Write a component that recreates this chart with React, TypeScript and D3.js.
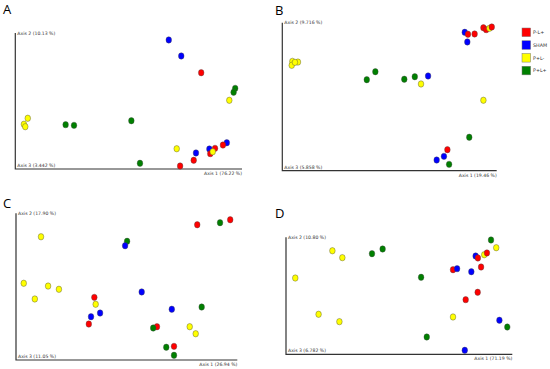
import * as d3 from 'd3';

// group index: 0 = P-L+, 1 = SHAM, 2 = P+L-, 3 = P+L+
const groups = ['P-L+', 'SHAM', 'P+L-', 'P+L+'];
const groupColors = ['#ff0000', '#0000ff', '#ffff00', '#008000'];

// point coordinates, as % of each axis extent
const pointsA: [number, number, number][] = [
  [1, 67.7, 94.9], [1, 73.2, 83.1], [0, 82.0, 70.8], [3, 97.0, 59.3], [3, 96.3, 56.4],
  [2, 94.4, 50.5], [2, 5.5, 37.3], [2, 3.8, 32.9], [2, 4.4, 31.1], [3, 22.2, 32.6],
  [3, 25.9, 32.1], [3, 51.2, 35.5], [2, 71.2, 14.9], [1, 79.7, 11.8], [1, 85.6, 14.7],
  [1, 93.3, 19.3], [0, 86.0, 11.3], [0, 88.1, 15.2], [0, 91.6, 17.6], [2, 87.1, 12.7],
  [0, 78.7, 6.4], [0, 72.7, 2.2], [3, 55.0, 4.2],
];
const pointsB: [number, number, number][] = [
  [0, 93.8, 96.6], [0, 95.1, 95.3], [2, 96.6, 96.2], [0, 97.7, 97.1], [1, 85.1, 93.5],
  [0, 86.6, 92.2], [0, 89.7, 92.4], [1, 86.3, 87.0], [2, 4.7, 73.9], [2, 7.3, 73.4],
  [2, 4.4, 71.2], [2, 5.9, 73.2], [3, 43.4, 66.9], [3, 39.4, 61.5], [3, 56.9, 61.8],
  [3, 61.8, 63.5], [1, 68.0, 64.0], [2, 64.7, 58.6], [2, 93.8, 47.6], [3, 87.2, 22.6],
  [0, 77.0, 14.2], [1, 75.4, 9.7], [1, 72.0, 7.2], [3, 77.8, 4.3],
];
const pointsC: [number, number, number][] = [
  [0, 81.9, 92.2], [3, 92.2, 93.6], [0, 96.8, 95.6], [2, 11.3, 84.0], [3, 50.2, 80.9],
  [1, 49.3, 77.9], [2, 3.5, 52.3], [2, 14.5, 50.4], [2, 19.4, 48.2], [2, 8.5, 41.6],
  [1, 56.8, 46.4], [0, 35.4, 42.7], [2, 36.0, 38.0], [1, 38.0, 32.0], [1, 33.9, 29.5],
  [0, 32.9, 24.5], [1, 70.4, 34.6], [3, 83.9, 36.1], [0, 63.7, 22.7], [3, 62.0, 21.8],
  [2, 78.5, 22.7], [2, 81.2, 17.9], [0, 71.4, 9.3], [3, 67.9, 8.7], [3, 71.4, 3.2],
];
const pointsD: [number, number, number][] = [
  [3, 90.6, 97.7], [2, 92.9, 91.1], [2, 20.5, 88.5], [2, 24.9, 82.6], [3, 38.0, 86.0],
  [3, 42.7, 90.0], [1, 83.8, 84.0], [0, 84.8, 82.3], [2, 87.6, 85.1], [0, 88.8, 86.6],
  [0, 73.8, 72.3], [1, 75.6, 73.2], [1, 81.9, 70.6], [0, 86.2, 74.6], [2, 4.1, 65.2],
  [3, 59.7, 65.8], [0, 84.7, 53.0], [0, 79.4, 46.7], [2, 14.4, 34.2], [2, 23.6, 27.9],
  [2, 73.8, 31.9], [1, 94.3, 29.1], [3, 97.8, 23.3], [3, 62.2, 14.8], [1, 79.0, 3.4],
];

const panelLetters = ['A', 'B', 'C', 'D'];
const axis1Labels = ['Axis 1 (76.22 %)', 'Axis 1 (19.46 %)', 'Axis 1 (26.94 %)', 'Axis 1 (71.19 %)'];
const axis2Labels = ['Axis 2 (10.13 %)', 'Axis 2 (9.716 %)', 'Axis 2 (17.90 %)', 'Axis 2 (10.80 %)'];
const axis3Labels = ['Axis 3 (3.442 %)', 'Axis 3 (5.858 %)', 'Axis 3 (11.05 %)', 'Axis 3 (6.782 %)'];
const allPoints = [pointsA, pointsB, pointsC, pointsD];

// layout of each panel: axis box + letter position
const panels = [
  { left: 15.3, right: 242, top: 33, bottom: 169, lx: 3, ly: 14 },
  { left: 282.3, right: 496.7, top: 22.7, bottom: 170.7, lx: 275, ly: 15 },
  { left: 16, right: 237.3, top: 213.3, bottom: 360, lx: 3, ly: 208 },
  { left: 286, right: 512.3, top: 237.3, bottom: 354.3, lx: 275, ly: 218 },
];

const Panel = ({ i }: { i: number }) => {
  const p = panels[i];
  const x = d3.scaleLinear().domain([0, 100]).range([p.left, p.right]);
  const y = d3.scaleLinear().domain([0, 100]).range([p.bottom, p.top]);
  const labelStyle = { fontSize: 4.6, fill: '#333', fontFamily: 'DejaVu Sans' };
  return (
    <g>
      <text x={p.lx} y={p.ly} fontSize={13} fontFamily="Open Sans" fill="#000">
        {panelLetters[i]}
      </text>
      <path
        d={`M${p.left},${p.top}V${p.bottom}H${p.right}`}
        fill="none"
        stroke="#333"
        strokeWidth={1.2}
      />
      <text x={p.left + 2} y={p.top + 1.5} style={labelStyle}>{axis2Labels[i]}</text>
      <text x={p.left + 2} y={p.bottom - 2} style={labelStyle}>{axis3Labels[i]}</text>
      <text x={p.right} y={p.bottom + 6} textAnchor="end" style={labelStyle}>{axis1Labels[i]}</text>
      {allPoints[i].map(([g, vx, vy], k) => (
        <ellipse
          key={k}
          cx={x(vx)}
          cy={y(vy)}
          rx={2.8}
          ry={3.2}
          fill={groupColors[g]}
          stroke="#444"
          strokeWidth={0.4}
        />
      ))}
    </g>
  );
};

const legendY = d3.scaleBand().domain(groups).range([28, 79]);

export default function App() {
  return (
    <svg width={550} height={369} style={{ position: 'absolute', left: 0, top: 0, background: '#fff' }}>
      {panels.map((_, i) => <Panel key={i} i={i} />)}
      {groups.map((g, i) => (
        <g key={g} transform={`translate(522,${legendY(g)})`}>
          <rect width={8.6} height={8.6} fill={groupColors[i]} stroke="#777" strokeWidth={0.5} />
          <text x={11} y={6} fontSize={4.8} fontFamily="DejaVu Sans" fill="#333">{g}</text>
        </g>
      ))}
    </svg>
  );
}
